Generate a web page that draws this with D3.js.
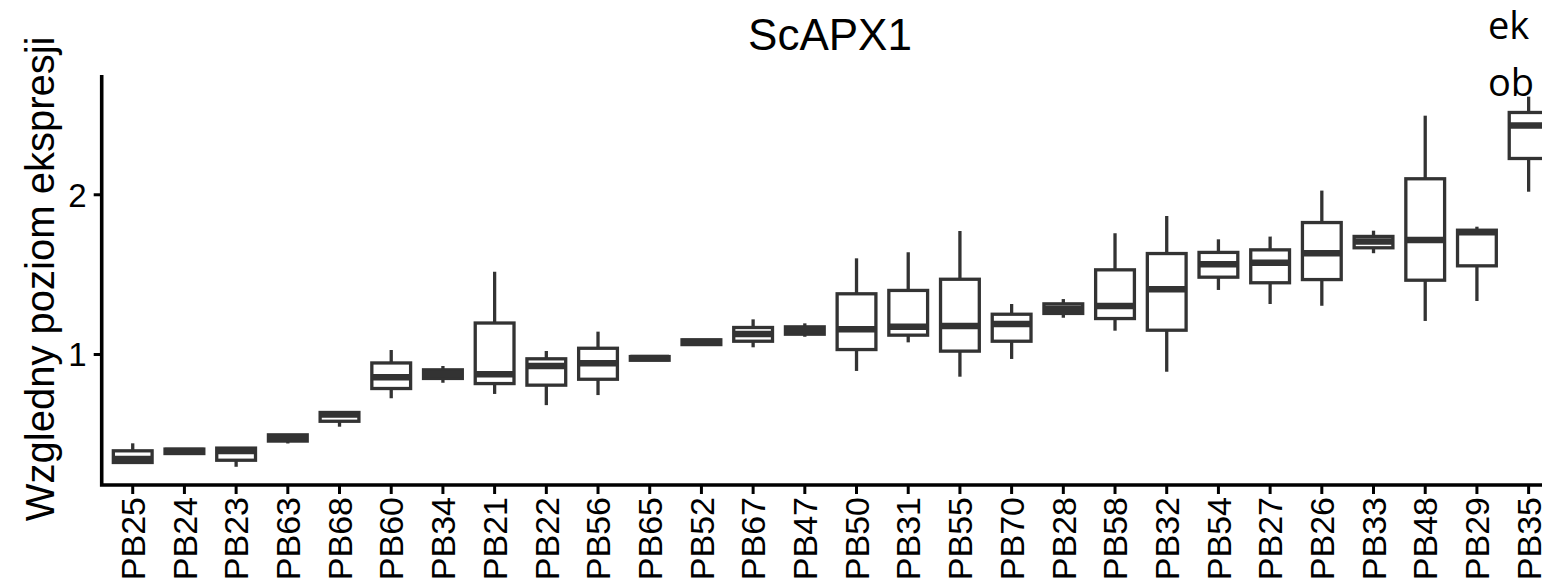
<!DOCTYPE html>
<html>
<head>
<meta charset="utf-8">
<script src="https://cdn.jsdelivr.net/npm/d3@7"></script>
<style>
    html, body { margin: 0; padding: 0; background: #fff; overflow: hidden; }
    svg { display: block; }
</style>
</head>
<body>
<div id="chart"></div>
<script>
/* --------------------------------------------------------------
DATOS — ScAPX1
-------------------------------------------------------------- */

const CATEGORIES = ["PB25", "PB24", "PB23", "PB63", "PB68", "PB60", "PB34", "PB21", "PB22", "PB56",
    "PB65", "PB52", "PB67", "PB47", "PB50", "PB31", "PB55", "PB70", "PB28", "PB58",
    "PB32", "PB54", "PB27", "PB26", "PB33", "PB48", "PB29", "PB35"];

const WHISKER_LOW = [0.32, 0.377, 0.294, 0.44, 0.545, 0.723, 0.82, 0.75, 0.68, 0.743,
    0.96, 1.055, 1.042, 1.108, 0.894, 1.073, 0.858, 0.969, 1.227, 1.146,
    0.889, 1.401, 1.313, 1.302, 1.631, 1.207, 1.332, 2.016];

const Q1 = [0.321, 0.377, 0.335, 0.455, 0.579, 0.784, 0.847, 0.815, 0.805, 0.842,
    0.961, 1.059, 1.08, 1.124, 1.028, 1.118, 1.018, 1.08, 1.254, 1.222,
    1.149, 1.481, 1.446, 1.466, 1.665, 1.462, 1.552, 2.224];

const MEDIAN = [0.343, 0.393, 0.393, 0.474, 0.621, 0.854, 0.875, 0.873, 0.925, 0.942,
    0.975, 1.075, 1.125, 1.15, 1.155, 1.171, 1.175, 1.188, 1.284, 1.301,
    1.405, 1.562, 1.572, 1.631, 1.704, 1.714, 1.762, 2.43];

const Q3 = [0.394, 0.405, 0.411, 0.494, 0.634, 0.944, 0.901, 1.194, 0.97, 1.036,
    0.984, 1.089, 1.166, 1.17, 1.377, 1.398, 1.468, 1.249, 1.314, 1.527,
    1.629, 1.636, 1.652, 1.823, 1.736, 2.097, 1.775, 2.512];

const WHISKER_HIGH = [0.441, 0.405, 0.411, 0.494, 0.634, 1.025, 0.925, 1.515, 1.019, 1.14,
    0.985, 1.09, 1.217, 1.192, 1.599, 1.637, 1.77, 1.313, 1.344, 1.756,
    1.864, 1.718, 1.735, 2.023, 1.772, 2.492, 1.797, 2.611];

const Y_TICKS = [1, 2];
const Y_DOMAIN = [0.18, 2.736];

const TITLE = "ScAPX1";
const Y_LABEL = "Wzgledny poziom ekspresji";
const OVERLAY_LINES = ["ek", "ob"];

/* --------------------------------------------------------------
WYMIARY
-------------------------------------------------------------- */

const width = 1542;
const height = 584;
const panel = { left: 101.7, top: 76.7, bottom: 485 };
const nBands = CATEGORIES.length + 0.2;
const step = 51.7;
const panelRight = panel.left + nBands * step;
const FONT = "Liberation Sans, Arial, sans-serif";

const svg = d3.select("#chart")
    .append("svg")
    .attr("width", width)
    .attr("height", height);

const x = d3.scaleBand()
    .domain(CATEGORIES)
    .range([panel.left, panelRight])
    .paddingInner(0)
    .paddingOuter(0.1);

const y = d3.scaleLinear()
    .domain(Y_DOMAIN)
    .range([panel.bottom, panel.top]);

const boxW = x.bandwidth() * 0.75;
const ink = "#333333";

const rows = CATEGORIES.map((c, i) => ({
    name: c,
    lo: WHISKER_LOW[i],
    q1: Q1[i],
    med: MEDIAN[i],
    q3: Q3[i],
    hi: WHISKER_HIGH[i]
}));

/* --------------------------------------------------------------
BOXPLOTY
-------------------------------------------------------------- */

const g = svg.append("g");

const box = g.selectAll("g.box")
    .data(rows)
    .enter()
    .append("g")
    .attr("class", "box")
    .attr("transform", d => `translate(${x(d.name) + x.bandwidth() / 2},0)`);

box.append("line")
    .attr("x1", 0).attr("x2", 0)
    .attr("y1", d => y(d.q3)).attr("y2", d => y(d.hi))
    .attr("stroke", ink).attr("stroke-width", 3.3);

box.append("line")
    .attr("x1", 0).attr("x2", 0)
    .attr("y1", d => y(d.q1)).attr("y2", d => y(d.lo))
    .attr("stroke", ink).attr("stroke-width", 3.3);

box.append("rect")
    .attr("x", -boxW / 2)
    .attr("width", boxW)
    .attr("y", d => y(d.q3))
    .attr("height", d => y(d.q1) - y(d.q3))
    .attr("fill", "#fff")
    .attr("stroke", ink)
    .attr("stroke-width", 3.3);

box.append("line")
    .attr("x1", -boxW / 2).attr("x2", boxW / 2)
    .attr("y1", d => y(d.med)).attr("y2", d => y(d.med))
    .attr("stroke", ink).attr("stroke-width", 6.5);

/* --------------------------------------------------------------
OSIE
-------------------------------------------------------------- */

const xAxis = svg.append("g")
    .attr("transform", `translate(0,${panel.bottom})`)
    .call(d3.axisBottom(x).tickSize(9).tickSizeOuter(0));

xAxis.select(".domain").remove();
xAxis.selectAll(".tick line").attr("stroke", "#000").attr("stroke-width", 3);
xAxis.selectAll(".tick text")
    .attr("font-family", FONT)
    .attr("font-size", 34)
    .attr("fill", "#000")
    .attr("text-anchor", "end")
    .attr("transform", "rotate(-90)")
    .attr("x", -12)
    .attr("y", 0)
    .attr("dy", "0.36em");

const yAxis = svg.append("g")
    .attr("transform", `translate(${panel.left},0)`)
    .call(d3.axisLeft(y).tickValues(Y_TICKS).tickFormat(d3.format("d")).tickSize(8).tickSizeOuter(0));

yAxis.select(".domain").remove();
yAxis.selectAll(".tick line").attr("stroke", "#000").attr("stroke-width", 3);
yAxis.selectAll(".tick text")
    .attr("font-family", FONT)
    .attr("font-size", 33)
    .attr("fill", "#000")
    .attr("x", -15)
    .attr("dy", "0.36em");

// linie osi (kąt prosty w rogu)
svg.append("path")
    .attr("d", `M${panel.left},${panel.top} V${panel.bottom} H${panelRight}`)
    .attr("fill", "none")
    .attr("stroke", "#000")
    .attr("stroke-width", 3.6)
    .attr("stroke-linecap", "square");

/* --------------------------------------------------------------
TEKSTY
-------------------------------------------------------------- */

svg.append("text")
    .attr("x", 830)
    .attr("y", 50)
    .attr("text-anchor", "middle")
    .attr("font-family", FONT)
    .attr("font-size", 44)
    .attr("fill", "#000")
    .text(TITLE);

svg.append("text")
    .attr("transform", `translate(54,${(panel.top + panel.bottom) / 2 - 2}) rotate(-90)`)
    .attr("text-anchor", "middle")
    .attr("font-family", FONT)
    .attr("font-size", 40)
    .attr("fill", "#000")
    .text(Y_LABEL);

// nakładka tekstowa w prawym górnym rogu
svg.selectAll("text.overlay")
    .data(OVERLAY_LINES)
    .enter()
    .append("text")
    .attr("class", "overlay")
    .attr("x", 1488)
    .attr("y", (d, i) => 39 + i * 57)
    .attr("font-family", "Open Sans, sans-serif")
    .attr("font-size", 38)
    .attr("fill", "#000")
    .text(d => d);
</script>
</body>
</html>
